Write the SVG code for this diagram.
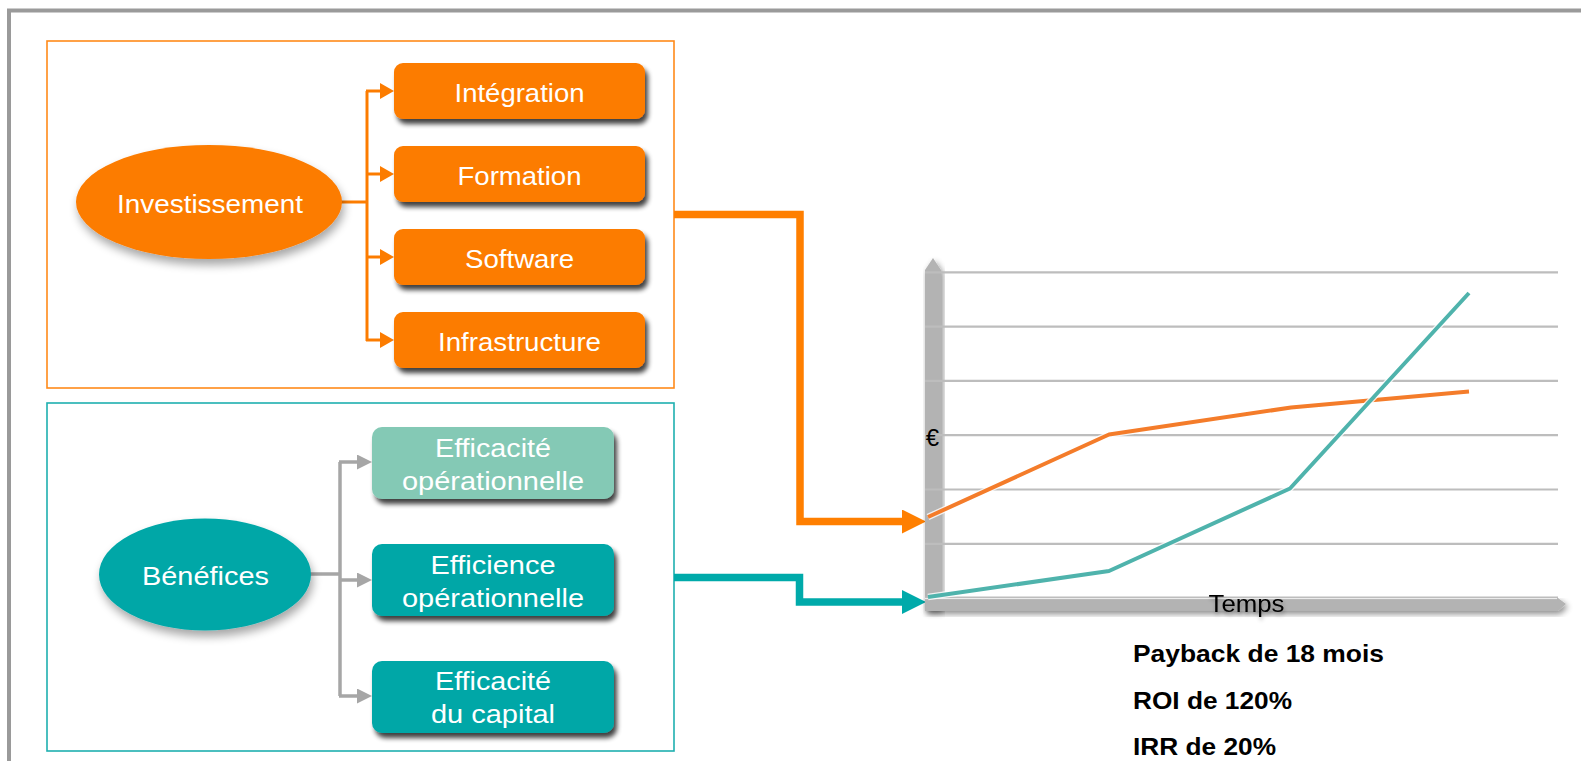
<svg xmlns="http://www.w3.org/2000/svg" width="1581" height="761" viewBox="0 0 1581 761">
<style>
.lbl{font-family:"Liberation Sans",Arial,sans-serif;font-size:26px;fill:#ffffff;text-anchor:middle}
.blk{font-family:"Liberation Sans",Arial,sans-serif;font-size:24px;fill:#000000}
.bold{font-weight:bold}
.orect{fill:#fc7c00}
.trect{fill:#02a7a7}
.grid{stroke:#bdbdbd;stroke-width:2.2;fill:none}
</style>
<defs>
<filter id="sh" x="-10%" y="-20%" width="130%" height="160%">
<feGaussianBlur in="SourceAlpha" stdDeviation="2.5"/>
<feOffset dx="3" dy="5"/>
<feComponentTransfer><feFuncA type="linear" slope="0.75"/></feComponentTransfer>
<feMerge><feMergeNode/><feMergeNode in="SourceGraphic"/></feMerge>
</filter>
<filter id="esh" x="-20%" y="-20%" width="140%" height="160%">
<feGaussianBlur in="SourceAlpha" stdDeviation="5"/>
<feOffset dx="2" dy="6"/>
<feComponentTransfer><feFuncA type="linear" slope="0.35"/></feComponentTransfer>
<feMerge><feMergeNode/><feMergeNode in="SourceGraphic"/></feMerge>
</filter>
<filter id="ash" x="-20%" y="-20%" width="140%" height="160%">
<feGaussianBlur in="SourceAlpha" stdDeviation="3"/>
<feOffset dx="2" dy="3"/>
<feComponentTransfer><feFuncA type="linear" slope="0.45"/></feComponentTransfer>
<feMerge><feMergeNode/><feMergeNode in="SourceGraphic"/></feMerge>
</filter>
<filter id="tsh" x="-20%" y="-30%" width="140%" height="180%">
<feGaussianBlur in="SourceAlpha" stdDeviation="2"/>
<feOffset dx="1" dy="3"/>
<feComponentTransfer><feFuncA type="linear" slope="0.3"/></feComponentTransfer>
<feMerge><feMergeNode/><feMergeNode in="SourceGraphic"/></feMerge>
</filter>
<marker id="aO" markerUnits="userSpaceOnUse" markerWidth="14" markerHeight="16" viewBox="0 0 14 16" refX="6" refY="8" orient="auto">
<path d="M0,0 L14,8 L0,16 Z" fill="#fc7c00"/>
</marker>
<marker id="aG" markerUnits="userSpaceOnUse" markerWidth="15" markerHeight="15" viewBox="0 0 15 15" refX="7" refY="7.5" orient="auto">
<path d="M0,0 L15,7.5 L0,15 Z" fill="#a6a6a6"/>
</marker>
<marker id="bO" markerUnits="userSpaceOnUse" markerWidth="24" markerHeight="24" viewBox="0 0 24 24" refX="3" refY="12" orient="auto">
<path d="M0,0 L24,12 L0,24 Z" fill="#ff7f00"/>
</marker>
<marker id="bT" markerUnits="userSpaceOnUse" markerWidth="24" markerHeight="24" viewBox="0 0 24 24" refX="3" refY="12" orient="auto">
<path d="M0,0 L24,12 L0,24 Z" fill="#00aaaa"/>
</marker>
</defs>

<rect width="1581" height="761" fill="#ffffff"/>
<g id="frame" fill="none" stroke="#9a9a9a" stroke-width="4">
<path d="M9,761 V10.5 H1581"/>
</g>

<rect id="invest-box" x="47" y="41" width="627" height="347" fill="none" stroke="#ff8a1a" stroke-width="1.6"/>
<rect id="benef-box" x="47" y="403" width="627" height="348" fill="none" stroke="#1fb0b0" stroke-width="1.6"/>

<g id="connectors" fill="none">
<g stroke="#fc7c00" stroke-width="3">
<path d="M341,202 H367"/>
<path d="M367,91 V341"/>
<path d="M366,91 H386" marker-end="url(#aO)"/>
<path d="M366,174 H386" marker-end="url(#aO)"/>
<path d="M366,257 H386" marker-end="url(#aO)"/>
<path d="M366,340 H386" marker-end="url(#aO)"/>
</g>
<g stroke="#a6a6a6" stroke-width="3.5">
<path d="M310,574 H340"/>
<path d="M340,462 V696"/>
<path d="M339,462 H364" marker-end="url(#aG)"/>
<path d="M339,580 H364" marker-end="url(#aG)"/>
<path d="M339,696 H364" marker-end="url(#aG)"/>
</g>
<path d="M674,214.5 H800 V521.5 H905" stroke="#ff7f00" stroke-width="7.5" marker-end="url(#bO)"/>
<path d="M674,577.5 H799.5 V602 H905" stroke="#00aaaa" stroke-width="7.5" marker-end="url(#bT)"/>
</g>

<g id="investissement">
<ellipse cx="209" cy="202" rx="133" ry="57" fill="#fc7c00" filter="url(#esh)"/>
<text class="lbl" x="210" y="213" textLength="186" lengthAdjust="spacingAndGlyphs">Investissement</text>
</g>
<g id="integration">
<rect class="orect" x="394" y="63" width="251" height="56" rx="9" filter="url(#sh)"/>
<text class="lbl" x="519.5" y="102" textLength="130" lengthAdjust="spacingAndGlyphs">Intégration</text>
</g>
<g id="formation">
<rect class="orect" x="394" y="146" width="251" height="56" rx="9" filter="url(#sh)"/>
<text class="lbl" x="519.5" y="185" textLength="124" lengthAdjust="spacingAndGlyphs">Formation</text>
</g>
<g id="software">
<rect class="orect" x="394" y="229" width="251" height="56" rx="9" filter="url(#sh)"/>
<text class="lbl" x="519.5" y="267.5" textLength="109" lengthAdjust="spacingAndGlyphs">Software</text>
</g>
<g id="infrastructure">
<rect class="orect" x="394" y="312" width="251" height="56" rx="9" filter="url(#sh)"/>
<text class="lbl" x="519.5" y="350.5" textLength="163" lengthAdjust="spacingAndGlyphs">Infrastructure</text>
</g>

<g id="benefices">
<ellipse cx="205" cy="574.5" rx="106" ry="56" fill="#02a7a7" filter="url(#esh)"/>
<text class="lbl" x="205.5" y="585" textLength="127" lengthAdjust="spacingAndGlyphs">Bénéfices</text>
</g>
<g id="efficacite-op">
<rect x="372" y="427" width="242" height="72" rx="10" fill="#84c9b5" filter="url(#sh)"/>
<text class="lbl" x="493" y="456.5" textLength="116" lengthAdjust="spacingAndGlyphs">Efficacité</text>
<text class="lbl" x="493" y="490" textLength="182" lengthAdjust="spacingAndGlyphs">opérationnelle</text>
</g>
<g id="efficience-op">
<rect class="trect" x="372" y="544" width="242" height="72" rx="10" filter="url(#sh)"/>
<text class="lbl" x="493" y="573.5" textLength="125" lengthAdjust="spacingAndGlyphs">Efficience</text>
<text class="lbl" x="493" y="607" textLength="182" lengthAdjust="spacingAndGlyphs">opérationnelle</text>
</g>
<g id="efficacite-cap">
<rect class="trect" x="372" y="661" width="242" height="72" rx="10" filter="url(#sh)"/>
<text class="lbl" x="493" y="689.5" textLength="116" lengthAdjust="spacingAndGlyphs">Efficacité</text>
<text class="lbl" x="493" y="723" textLength="124" lengthAdjust="spacingAndGlyphs">du capital</text>
</g>

<g id="chart">
<path d="M925,610 V270 L933,258 L941,270 V610 Z" fill="#b3b3b3" filter="url(#ash)"/>
<path d="M925,598 H1558 L1566,604 L1558,611 H925 Z" fill="#b3b3b3" filter="url(#ash)"/>
<g class="grid">
<path d="M925,272.3 H1558"/>
<path d="M925,326.6 H1558"/>
<path d="M925,380.9 H1558"/>
<path d="M925,435.2 H1558"/>
<path d="M925,489.5 H1558"/>
<path d="M925,543.8 H1558"/>
<path d="M925,597.5 H1558"/>
</g>
<path d="M925,598.6 H1557" stroke="#f2f2f2" stroke-width="1"/>
<text class="blk" x="932.5" y="446" text-anchor="middle">€</text>
<text class="blk" x="1246.5" y="611.5" text-anchor="middle" textLength="76" lengthAdjust="spacingAndGlyphs" filter="url(#tsh)">Temps</text>
<polyline points="928,517 1109,434.5 1291,407.5 1469,391.5" fill="none" stroke="#ffffff" stroke-width="6.5" stroke-linejoin="round" opacity="0.8"/>
<polyline points="928,517 1109,434.5 1291,407.5 1469,391.5" fill="none" stroke="#f47c2a" stroke-width="4" stroke-linejoin="round"/>
<polyline points="928,597 1109,571 1290,488.5 1469,293" fill="none" stroke="#ffffff" stroke-width="6.5" stroke-linejoin="round" opacity="0.8"/>
<polyline points="928,597 1109,571 1290,488.5 1469,293" fill="none" stroke="#4fb3ac" stroke-width="4" stroke-linejoin="round"/>
</g>

<g id="metrics">
<text class="blk bold" x="1133" y="661.5" textLength="251" lengthAdjust="spacingAndGlyphs">Payback de 18 mois</text>
<text class="blk bold" x="1133" y="708.5" textLength="159" lengthAdjust="spacingAndGlyphs">ROI de 120%</text>
<text class="blk bold" x="1133" y="755" textLength="143" lengthAdjust="spacingAndGlyphs">IRR de 20%</text>
</g>
</svg>
